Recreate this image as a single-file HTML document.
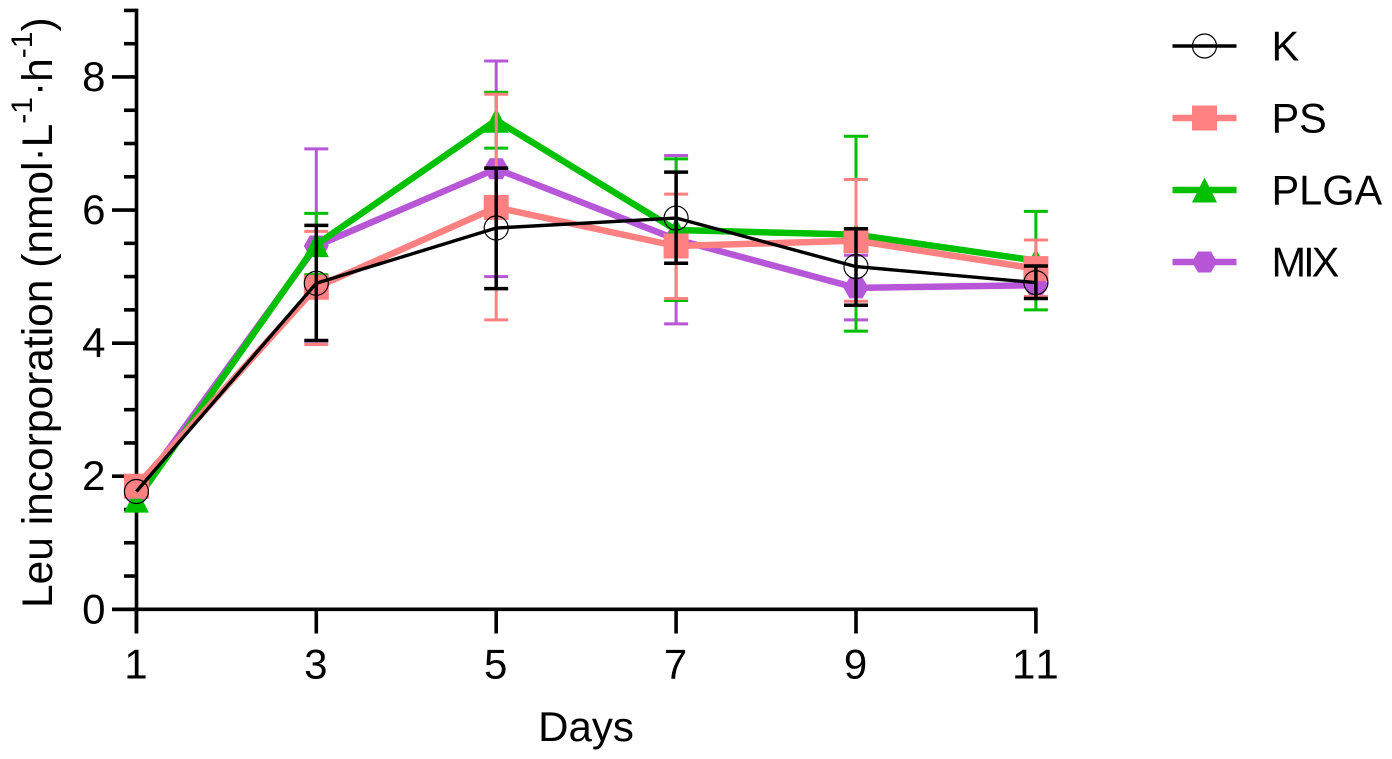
<!DOCTYPE html>
<html>
<head>
<meta charset="utf-8">
<style>
html,body{margin:0;padding:0;background:#fff;width:1392px;height:759px;overflow:hidden}
svg{display:block}
text{font-family:"Liberation Sans",sans-serif;fill:#000;font-kerning:none}
</style>
</head>
<body>
<svg id="chart" xmlns="http://www.w3.org/2000/svg" width="1392" height="759" viewBox="0 0 1392 759">
<text transform="translate(52,608) rotate(-90)" font-size="42.5">Leu incorporation (nmol·L<tspan dy="-20" font-size="30">-1</tspan><tspan dy="20" dx="1">·h</tspan><tspan dy="-20" font-size="30">-1</tspan><tspan dy="20">)</tspan></text>
<text x="586" y="741" font-size="42" text-anchor="middle">Days</text>
</svg>
<script>
const days = [1, 3, 5, 7, 9, 11];
const xTickLabels = ["1", "3", "5", "7", "9", "11"];
const yTickLabels = [0, 2, 4, 6, 8];
const yMinorTicks = [0.5, 1, 1.5, 2.5, 3, 3.5, 4.5, 5, 5.5, 6.5, 7, 7.5, 8.5, 9];

const mixMean = [1.74, 5.46, 6.62, 5.56, 4.83, 4.87];
const mixUpper = [null, 6.92, 8.24, 6.82, 5.32, 5.08];
const mixLower = [null, 4.03, 5.00, 4.29, 4.35, 4.67];

const plgaMean = [1.64, 5.48, 7.35, 5.70, 5.63, 5.24];
const plgaUpper = [null, 5.95, 7.77, 6.77, 7.11, 5.98];
const plgaLower = [null, 5.03, 6.93, 4.64, 4.18, 4.50];

const psMean = [1.85, 4.84, 6.04, 5.46, 5.54, 5.12];
const psUpper = [null, 5.68, 7.74, 6.24, 6.46, 5.55];
const psLower = [null, 3.98, 4.35, 4.67, 4.63, 4.70];

const kMean = [1.77, 4.90, 5.73, 5.88, 5.15, 4.91];
const kUpper = [null, 5.77, 6.63, 6.57, 5.72, 5.16];
const kLower = [null, 4.04, 4.82, 5.20, 4.57, 4.67];

const legendLabels = ["K", "PS", "PLGA", "MIX"];

const svg = document.getElementById('chart');
const NS = 'http://www.w3.org/2000/svg';
const xScale = d => 136.4 + (d - 1) * 89.95;
const yScale = v => 609.3 - v * 66.54;

function add(parent, tag, attrs) {
  const el = document.createElementNS(NS, tag);
  for (const k in attrs) el.setAttribute(k, attrs[k]);
  parent.appendChild(el);
  return el;
}
function drawMarker(g, type, cx, cy, color) {
  let m;
  if (type === 'circle') {
    m = add(g, 'circle', {cx: cx, cy: cy, r: 12, fill: 'none', stroke: '#000', 'stroke-width': 1.2});
  } else if (type === 'square') {
    m = add(g, 'rect', {x: cx - 12.5, y: cy - 12.5, width: 25, height: 25, fill: color});
  } else if (type === 'triangle') {
    m = add(g, 'polygon', {points: [[cx, cy - 12.5], [cx + 12.5, cy + 12.5], [cx - 12.5, cy + 12.5]].join(' '), fill: color});
  } else {
    m = add(g, 'polygon', {points: [[cx - 12.5, cy], [cx - 6.5, cy - 10.5], [cx + 6.5, cy - 10.5], [cx + 12.5, cy], [cx + 6.5, cy + 10.5], [cx - 6.5, cy + 10.5]].join(' '), fill: color});
  }
  
  
}
function drawSeries(name, mean, upper, lower, color, lineWidth, errWidth, marker) {
  const g = add(svg, 'g', {});
  
  
  days.forEach((d, i) => {
    if (upper[i] === null || lower[i] === null) return;
    const x = xScale(d);
    const yu = yScale(upper[i]);
    const yl = yScale(lower[i]);
    const err = add(g, 'path', {d: `M${x} ${yu}V${yl}M${x - 12} ${yu}H${x + 12}M${x - 12} ${yl}H${x + 12}`, fill: 'none', stroke: color, 'stroke-width': errWidth});
    
    
  });
  const line = add(g, 'polyline', {points: days.map((d, i) => xScale(d) + ',' + yScale(mean[i])).join(' '), fill: 'none', stroke: color, 'stroke-width': lineWidth, 'stroke-linejoin': 'round'});
  
  
  days.forEach((d, i) => drawMarker(g, marker, xScale(d), yScale(mean[i]), color));
}

// axes
const axes = add(svg, 'g', {stroke: '#000', 'stroke-width': 3.6, fill: 'none'});


const yAxisLine = add(axes, 'line', {x1: 136.5, x2: 136.5, y1: yScale(9) - 1.8, y2: 633.5});


const xAxisLine = add(axes, 'line', {x1: 112, x2: xScale(11) + 1.8, y1: yScale(0), y2: yScale(0)});


yMinorTicks.forEach(v => {
  const t = add(axes, 'line', {x1: 124, x2: 136.5, y1: yScale(v), y2: yScale(v)});
  
  
});
yTickLabels.forEach(v => {
  const t = add(axes, 'line', {x1: 112, x2: 136.5, y1: yScale(v), y2: yScale(v)});
  
  
  const l = add(svg, 'text', {x: 105.5, y: yScale(v) + 14, 'font-size': 42, 'text-anchor': 'end'});
  
  
  l.textContent = v;
});
days.forEach((d, i) => {
  const t = add(axes, 'line', {x1: xScale(d), x2: xScale(d), y1: yScale(0), y2: 633.5});
  
  
  const l = add(svg, 'text', {x: xScale(d) - 0.5, y: 678.5, 'font-size': 42, 'text-anchor': 'middle'});
  
  
  l.textContent = xTickLabels[i];
});

// series, back to front
drawSeries('mix', mixMean, mixUpper, mixLower, '#b856d8', 6.5, 3, 'hexagon');
drawSeries('plga', plgaMean, plgaUpper, plgaLower, '#00c000', 6.5, 3, 'triangle');
drawSeries('ps', psMean, psUpper, psLower, '#ff8080', 6.5, 3, 'square');
drawSeries('k', kMean, kUpper, kLower, '#000000', 3.4, 3.5, 'circle');

// legend
const legendColors = ['#000000', '#ff8080', '#00c000', '#b856d8'];
const legendMarkers = ['circle', 'square', 'triangle', 'hexagon'];
legendLabels.forEach((label, i) => {
  const y = 46 + i * 72;
  const g = add(svg, 'g', {});
  
  
  const s = add(g, 'line', {x1: 1172.5, x2: 1236.5, y1: y, y2: y, stroke: legendColors[i], 'stroke-width': i === 0 ? 3.4 : 6.5});
  
  
  drawMarker(g, legendMarkers[i], 1204.5, y, legendColors[i]);
  const t = add(g, 'text', {x: 1271.5, y: y + 14.7, 'font-size': 41.5});
  
  
  if (label === 'MIX') t.setAttribute('letter-spacing', '-3');
  t.textContent = label;
});
</script>
</body>
</html>
